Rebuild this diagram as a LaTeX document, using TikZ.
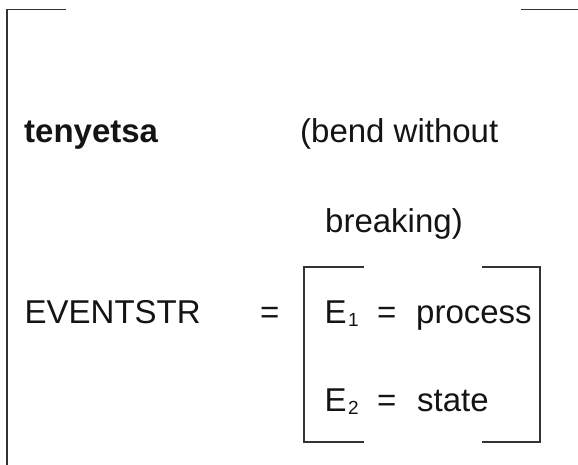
\documentclass[tikz,border=0pt]{standalone}
\usepackage{fontspec}
\setmainfont{Liberation Sans}
\newcommand{\subd}[1]{\hspace{1.5pt}\raisebox{-3.5pt}{\fontsize{19}{19}\selectfont #1}}
\begin{document}
\begin{tikzpicture}[x=1pt,y=-1pt,
  brk/.style={draw=black!80,line width=1.6pt},
  ibrk/.style={draw=black!80,line width=1.4pt},
  txt/.style={anchor=base west,inner sep=0pt,font=\fontsize{33}{39}\selectfont,text=black!92}]
\useasboundingbox (0,0) rectangle (578,465);
\fill[white] (0,0) rectangle (578,465);
% outer bracket
\draw[brk] (66,9.5) -- (7,9.5) -- (7,465);
\draw[brk] (521,9.5) -- (578,9.5);
% inner bracket
\draw[ibrk] (364,267) -- (304,267) -- (304,442) -- (364,442);
\draw[ibrk] (482,267) -- (540,267) -- (540,442) -- (482,442);
% texts
\node[txt,font=\fontsize{33}{39}\selectfont\bfseries] (lex) at (24,143) {tenyetsa};
\node[txt] (gloss1) at (300,143) {(bend without};
\node[txt] (gloss2) at (325,233) {breaking)};
\node[txt] (ev) at (24.5,323) {EVENTSTR};
\node[txt] (eq) at (260,323) {=};
\node[txt] (e1) at (324.5,323) {E\subd{1}};
\node[txt] (eq1) at (377,323) {=};
\node[txt] (p) at (416,323) {process};
\node[txt] (e2) at (324.5,411) {E\subd{2}};
\node[txt] (eq2) at (377,411) {=};
\node[txt] (s) at (417,411) {state};
\end{tikzpicture}
\end{document}
